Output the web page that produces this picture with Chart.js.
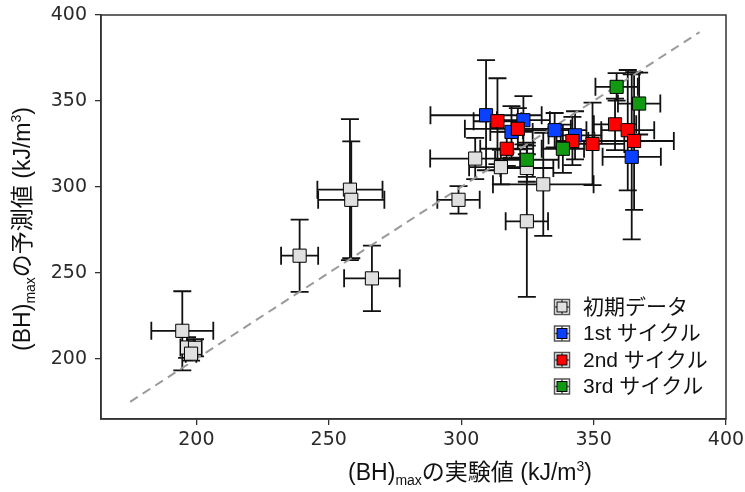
<!DOCTYPE html>
<html>
<head>
<meta charset="utf-8">
<script src="https://cdn.jsdelivr.net/npm/chart.js@4.4.1/dist/chart.umd.min.js"></script>
<style>
    html, body { margin: 0; padding: 0; background: #fff; }
    #chart { display: block; }
</style>
</head>
<body>
<canvas id="chart" width="745" height="492"></canvas>
<script>
// axis ticks
const xTicks = [200, 250, 300, 350, 400];
const yTicks = [200, 250, 300, 350, 400];
const diagonal = [175, 390];

// 初期データ
const initX    = [194.7, 196.5, 199.5, 198.0, 239.0, 258.0, 258.5, 266.3, 299.0, 305.3, 315.0, 324.8, 331.0, 324.8];
const initY    = [216.3, 206.6, 206.4, 203.0, 260.0, 298.4, 292.5, 246.8, 292.5, 316.5, 311.5, 311.0, 301.5, 280.0];
const initXErr = [11.7, 2.5, 2.5, 2.0, 7.0, 12.3, 12.5, 10.5, 8.0, 17.0, 12.0, 10.0, 19.0, 8.0];
const initYErr = [23, 6, 5, 4, 21, 41, 34, 19, 8, 12, 10, 8, 30, 44];

// 1st サイクル
const c1X    = [309.4, 323.5, 319.0, 335.3, 343.0, 364.4];
const c1Y    = [341.7, 338.8, 332.0, 333.0, 330.0, 317.5];
const c1XErr = [21, 10, 8, 12, 10, 11];
const c1YErr = [32, 14, 15, 10, 14, 48];

// 2nd サイクル
const c2X    = [313.7, 321.4, 317.2, 342.0, 349.6, 358.1, 362.9, 365.3];
const c2Y    = [338.2, 333.8, 322.2, 326.7, 325.0, 336.4, 333.0, 326.7];
const c2XErr = [9, 20, 10, 6, 12, 8, 10, 15];
const c2YErr = [25, 12, 10, 14, 24, 15, 35, 40];

// 3rd サイクル
const c3X    = [324.8, 338.4, 358.7, 367.2];
const c3Y    = [315.8, 322.2, 358.2, 348.5];
const c3XErr = [12, 8, 8, 8];
const c3YErr = [10, 14, 8, 18];

const labels = ['初期データ', '1st サイクル', '2nd サイクル', '3rd サイクル'];
const colors = ['#e0e0e0', '#0a40ff', '#ff0000', '#119a11'];

const tickFont = { family: 'DejaVu Sans', size: 19 };
const titleFont = '"Liberation Sans", "Noto Sans CJK JP", sans-serif';

function points(xs, ys) {
    return xs.map((x, i) => ({ x: x, y: ys[i] }));
}

function series(i, xs, ys, xErr, yErr) {
    return {
        label: labels[i],
        data: points(xs, ys),
        xErr: xErr,
        yErr: yErr,
        pointStyle: 'rect',
        pointRadius: 9.3,
        backgroundColor: colors[i],
        borderColor: '#000',
        borderWidth: 1,
        order: 4 - i
    };
}

const errorBars = {
    id: 'errorBars',
    beforeDatasetsDraw(chart) {
        const ctx = chart.ctx;
        const xs = chart.scales.x, ys = chart.scales.y;
        const cap = 9;
        ctx.save();
        ctx.strokeStyle = '#111';
        ctx.lineWidth = 1.8;
        chart.data.datasets.forEach(ds => {
            if (!ds.xErr) return;
            ds.data.forEach((p, i) => {
                const px = xs.getPixelForValue(p.x), py = ys.getPixelForValue(p.y);
                const x0 = xs.getPixelForValue(p.x - ds.xErr[i]);
                const x1 = xs.getPixelForValue(p.x + ds.xErr[i]);
                const y0 = ys.getPixelForValue(p.y - ds.yErr[i]);
                const y1 = ys.getPixelForValue(p.y + ds.yErr[i]);
                ctx.beginPath();
                ctx.moveTo(x0, py); ctx.lineTo(x1, py);
                ctx.moveTo(x0, py - cap); ctx.lineTo(x0, py + cap);
                ctx.moveTo(x1, py - cap); ctx.lineTo(x1, py + cap);
                ctx.moveTo(px, y0); ctx.lineTo(px, y1);
                ctx.moveTo(px - cap, y0); ctx.lineTo(px + cap, y0);
                ctx.moveTo(px - cap, y1); ctx.lineTo(px + cap, y1);
                ctx.stroke();
            });
        });
        ctx.restore();
    }
};

// draws text pieces in a row: [text, size, baseline shift]
function drawRich(ctx, parts) {
    let w = 0;
    parts.forEach(p => { ctx.font = p[1] + 'px ' + titleFont; w += ctx.measureText(p[0]).width; });
    let x = -w / 2;
    parts.forEach(p => {
        ctx.font = p[1] + 'px ' + titleFont;
        ctx.fillText(p[0], x, p[2]);
        x += ctx.measureText(p[0]).width;
    });
}

const decorations = {
    id: 'decorations',
    afterDraw(chart) {
        const ctx = chart.ctx;
        const a = chart.chartArea;
        ctx.save();
        // frame
        ctx.strokeStyle = '#333';
        ctx.lineWidth = 1.5;
        ctx.strokeRect(a.left, a.top, a.right - a.left, a.bottom - a.top);

        // axis titles
        ctx.fillStyle = '#111';
        ctx.textBaseline = 'middle';
        ctx.textAlign = 'left';
        ctx.save();
        ctx.translate(470, 474);
        drawRich(ctx, [['(BH)', 23, 0], ['max', 14, 7], ['の実験値 (kJ/m', 23, 0], ['3', 14, -7], [')', 23, 0]]);
        ctx.restore();
        ctx.save();
        ctx.translate(24, 229);
        ctx.rotate(-Math.PI / 2);
        drawRich(ctx, [['(BH)', 23, 0], ['max', 14, 7], ['の予測値 (kJ/m', 23, 0], ['3', 14, -7], [')', 23, 0]]);
        ctx.restore();

        // legend
        const lx = 562, ly = 307, step = 26.5;
        labels.forEach((lab, i) => {
            const cy = ly + i * step;
            ctx.strokeStyle = '#555';
            ctx.lineWidth = 1.5;
            ctx.strokeRect(lx - 7.5, cy - 7.5, 15, 15);
            ctx.beginPath();
            ctx.moveTo(lx - 7.5, cy); ctx.lineTo(lx + 7.5, cy);
            ctx.moveTo(lx, cy - 7.5); ctx.lineTo(lx, cy + 7.5);
            ctx.stroke();
            ctx.fillStyle = colors[i];
            ctx.fillRect(lx - 5, cy - 5, 10, 10);
            ctx.strokeStyle = '#000';
            ctx.lineWidth = 1;
            ctx.strokeRect(lx - 5, cy - 5, 10, 10);
            ctx.fillStyle = '#111';
            ctx.font = '21px ' + titleFont;
            ctx.fillText(lab, lx + 21, cy + 1);
        });
        ctx.restore();
    }
};

new Chart(document.getElementById('chart'), {
    type: 'scatter',
    data: {
        datasets: [
            series(0, initX, initY, initXErr, initYErr),
            series(1, c1X, c1Y, c1XErr, c1YErr),
            series(2, c2X, c2Y, c2XErr, c2YErr),
            series(3, c3X, c3Y, c3XErr, c3YErr),
            {
                label: 'y = x',
                data: points(diagonal, diagonal),
                showLine: true,
                borderColor: '#9a9a9a',
                borderDash: [9, 6],
                borderWidth: 2,
                pointRadius: 0,
                order: 5
            }
        ]
    },
    options: {
        responsive: false,
        animation: false,
        devicePixelRatio: 1,
        events: [],
        layout: { padding: { top: 15, right: 19, left: 0, bottom: 0 } },
        plugins: {
            legend: { display: false },
            tooltip: { enabled: false }
        },
        scales: {
            x: {
                type: 'linear',
                min: 164,
                max: 400,
                afterBuildTicks: s => { s.ticks = xTicks.map(v => ({ value: v })); },
                afterFit: s => { s.height = 73; s.paddingLeft = 0; s.paddingRight = 0; },
                grid: { drawOnChartArea: false, tickLength: 6, color: '#333', lineWidth: 1.3 },
                border: { color: '#333', width: 1.5 },
                ticks: { font: tickFont, color: '#2a2a2a', padding: 4 }
            },
            y: {
                type: 'linear',
                min: 165,
                max: 400,
                afterBuildTicks: s => { s.ticks = yTicks.map(v => ({ value: v })); },
                afterFit: s => { s.width = 101; s.paddingTop = 0; s.paddingBottom = 0; },
                grid: { drawOnChartArea: false, tickLength: 6, color: '#333', lineWidth: 1.3 },
                border: { color: '#333', width: 1.5 },
                ticks: { font: tickFont, color: '#2a2a2a', padding: 8 }
            }
        }
    },
    plugins: [errorBars, decorations]
});
</script>
</body>
</html>
